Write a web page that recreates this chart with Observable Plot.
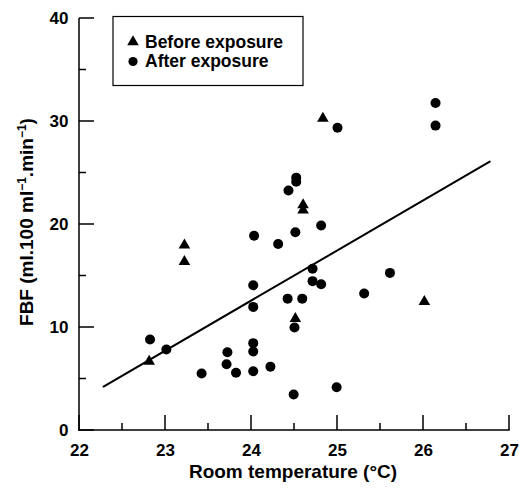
<!DOCTYPE html>
<html><head><meta charset="utf-8">
<script src="https://cdn.jsdelivr.net/npm/d3@7"></script>
<script src="https://cdn.jsdelivr.net/npm/@observablehq/plot@0.6"></script>
<style>html,body{margin:0;padding:0;background:#fff;overflow:hidden}#chart{width:519px;height:490px;line-height:0}#chart svg{display:block;max-width:none}</style>
</head><body><div id="chart"></div>
<script>
// Before exposure (triangles)
const beforeTemp = [22.81, 23.22, 23.22, 24.51, 24.60, 24.60, 24.83, 26.01];
const beforeFBF  = [6.7, 18.0, 16.4, 10.85, 21.9, 21.4, 30.3, 12.5];
// After exposure (circles)
const afterTemp = [25.00, 24.52, 24.52, 24.43, 24.81, 24.51, 24.03, 24.31, 24.71, 24.71, 24.81, 24.02,
                   24.42, 24.59, 24.02, 24.50, 22.82, 23.01, 23.72, 24.02, 24.02, 23.71, 23.42, 23.82,
                   24.02, 24.22, 24.49, 24.99, 26.14, 26.14, 25.31, 25.61];
const afterFBF  = [29.4, 24.55, 24.15, 23.3, 19.9, 19.25, 18.9, 18.1, 15.7, 14.5, 14.2, 14.1,
                   12.8, 12.8, 12.0, 10.0, 8.83, 7.86, 7.6, 8.48, 7.67, 6.44, 5.53, 5.6,
                   5.76, 6.2, 3.5, 4.2, 31.8, 29.6, 13.3, 15.3];
// Regression line end points
const fitTemp = [22.28, 26.77];
const fitFBF  = [4.27, 26.1];
// Ticks
const xMajor = [22, 23, 24, 25, 26, 27];
const xMinor = [22.5, 23.5, 24.5, 25.5, 26.5];
const yMajor = [0, 10, 20, 30, 40];
const yMinor = [5, 15, 25, 35];
const legendLabels = ["Before exposure", "After exposure"];
const xTitle = "Room temperature (°C)";

const before = beforeTemp.map((t, i) => ({t, f: beforeFBF[i]}));
const after = afterTemp.map((t, i) => ({t, f: afterFBF[i]}));
const fit = fitTemp.map((t, i) => ({t, f: fitFBF[i]}));

const FONT = "'Liberation Sans', Arial, Helvetica, sans-serif";

const chart = Plot.plot({
  width: 519,
  height: 490,
  marginLeft: 79,
  marginRight: 10,
  marginTop: 18,
  marginBottom: 60,
  style: {fontFamily: FONT, fontWeight: "bold", color: "#000", background: "#fff", maxWidth: "none", display: "block"},
  x: {domain: [22, 27]},
  y: {domain: [0, 40]},
  marks: [
    Plot.axisX(xMajor, {tickSize: 0, tickPadding: 13, fontSize: 17, label: null, tickFormat: d => String(d)}),
    Plot.axisY(yMajor, {tickSize: 0, tickPadding: 11, fontSize: 17, label: null, tickFormat: d => String(d)}),
    Plot.line(fit, {x: "t", y: "f", stroke: "#000", strokeWidth: 2}),
    Plot.dot(after, {x: "t", y: "f", r: 5, fill: "#000", stroke: "none"}),
    Plot.dot(before, {x: "t", y: "f", r: 4.3, symbol: "triangle", fill: "#000", stroke: "none"})
  ]
});

document.getElementById("chart").append(chart);

const sx = chart.scale("x"), sy = chart.scale("y");
const X = v => sx.apply(v), Y = v => sy.apply(v);
const svg = d3.select(chart);

// Axis lines and inward ticks, as filled rectangles positioned by Plot's scales
const axes = svg.append("g").attr("fill", "#000");
const x0 = X(xMajor[0]), x1 = X(xMajor[xMajor.length - 1]);
const y0 = Y(yMajor[0]), y1 = Y(yMajor[yMajor.length - 1]);
const W = 1.5;
axes.append("rect").attr("x", x0 - W / 2).attr("y", y0 - W / 2).attr("width", x1 - x0 + W).attr("height", W);
axes.append("rect").attr("x", x0 - W / 2).attr("y", y1).attr("width", W).attr("height", y0 - y1 + W / 2);
xMajor.forEach(v => axes.append("rect").attr("x", X(v) - W / 2).attr("y", y0 - 15).attr("width", W).attr("height", 15));
xMinor.forEach(v => axes.append("rect").attr("x", X(v) - W / 2).attr("y", y0 - 7).attr("width", W).attr("height", 7));
yMajor.forEach(v => axes.append("rect").attr("x", x0).attr("y", Y(v) - W / 2).attr("width", 15).attr("height", W));
yMinor.forEach(v => axes.append("rect").attr("x", x0).attr("y", Y(v) - W / 2).attr("width", 7).attr("height", W));

// Axis titles
svg.append("text")
  .attr("x", 293).attr("y", 478)
  .attr("text-anchor", "middle")
  .attr("font-family", FONT).attr("font-weight", "bold").attr("font-size", 19)
  .attr("fill", "#000")
  .text(xTitle);

const yt = svg.append("text")
  .attr("transform", "translate(33,222) rotate(-90)")
  .attr("text-anchor", "middle")
  .attr("font-family", FONT).attr("font-weight", "bold").attr("font-size", 19)
  .attr("fill", "#000");
yt.append("tspan").text("FBF (ml.100 ml");
yt.append("tspan").attr("dy", -7).attr("font-size", 12).text("−1");
yt.append("tspan").attr("dy", 7).text(".min");
yt.append("tspan").attr("dy", -7).attr("font-size", 12).text("−1");
yt.append("tspan").attr("dy", 7).text(")");

// Legend box
const lg = svg.append("g");
lg.append("rect").attr("x", 113).attr("y", 16.5).attr("width", 190).attr("height", 69)
  .attr("fill", "#fff").attr("stroke", "#000").attr("stroke-width", 1.2);
lg.append("path").attr("transform", "translate(133,42)")
  .attr("d", d3.symbol(d3.symbolTriangle, Math.PI * 4.3 * 4.3)()).attr("fill", "#000");
lg.append("path").attr("transform", "translate(133,61.5)")
  .attr("d", d3.symbol(d3.symbolCircle, Math.PI * 4.6 * 4.6)()).attr("fill", "#000");
legendLabels.forEach((s, i) => {
  lg.append("text").attr("x", 145).attr("y", 47.5 + i * 19.5)
    .attr("text-anchor", "start")
    .attr("font-family", FONT).attr("font-weight", "bold").attr("font-size", 17.5)
    .attr("fill", "#000").text(s);
});
</script>
</body></html>
